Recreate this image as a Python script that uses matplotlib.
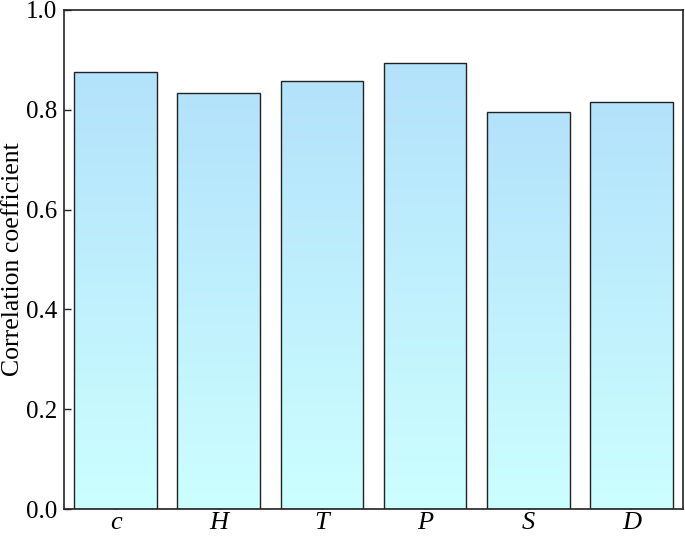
import numpy as np
import matplotlib.pyplot as plt
from matplotlib.colors import LinearSegmentedColormap

categories = ["c", "H", "T", "P", "S", "D"]
values = [0.876, 0.834, 0.858, 0.894, 0.796, 0.816]

plt.rcParams["font.family"] = ["Liberation Serif", "DejaVu Serif"]

fig = plt.figure(figsize=(6.85, 5.36), dpi=100)
ax = fig.add_axes([64 / 685, 27 / 536, 619 / 685, 499 / 536])

cmap = LinearSegmentedColormap.from_list("bluegrad", ["#ccffff", "#b3e2fb"])
grad = np.linspace(0, 1, 256).reshape(-1, 1)

x = np.arange(len(categories))
bars = ax.bar(x, values, width=0.8, color="none", edgecolor="#222222",
              linewidth=1.0, zorder=3)
for b in bars:
    x0, y0 = b.get_x(), b.get_y()
    w, h = b.get_width(), b.get_height()
    im = ax.imshow(grad, cmap=cmap, aspect="auto", origin="lower",
                   extent=[x0, x0 + w, y0, y0 + h], zorder=2)
    im.set_clip_path(b)

ax.set_xlim(-0.5, len(categories) - 0.5)
ax.set_ylim(0, 1.0)
ax.set_xticks(x)
ax.set_xticklabels(categories, fontstyle="italic", fontsize=19)
ax.set_yticks(np.arange(0, 1.01, 0.2))
ax.set_yticklabels([f"{v:.1f}" for v in np.arange(0, 1.01, 0.2)], fontsize=18)
ax.tick_params(direction="in", length=5, width=1.0, color="#222222")
ax.tick_params(axis="x", pad=2)
ax.tick_params(axis="y", pad=5)
ax.set_ylabel("Correlation coefficient", fontsize=18.5)
ax.yaxis.set_label_coords(-0.064, 0.5)
for s in ax.spines.values():
    s.set_linewidth(1.2)
    s.set_color("#222222")

plt.savefig("out.png", dpi=100)
